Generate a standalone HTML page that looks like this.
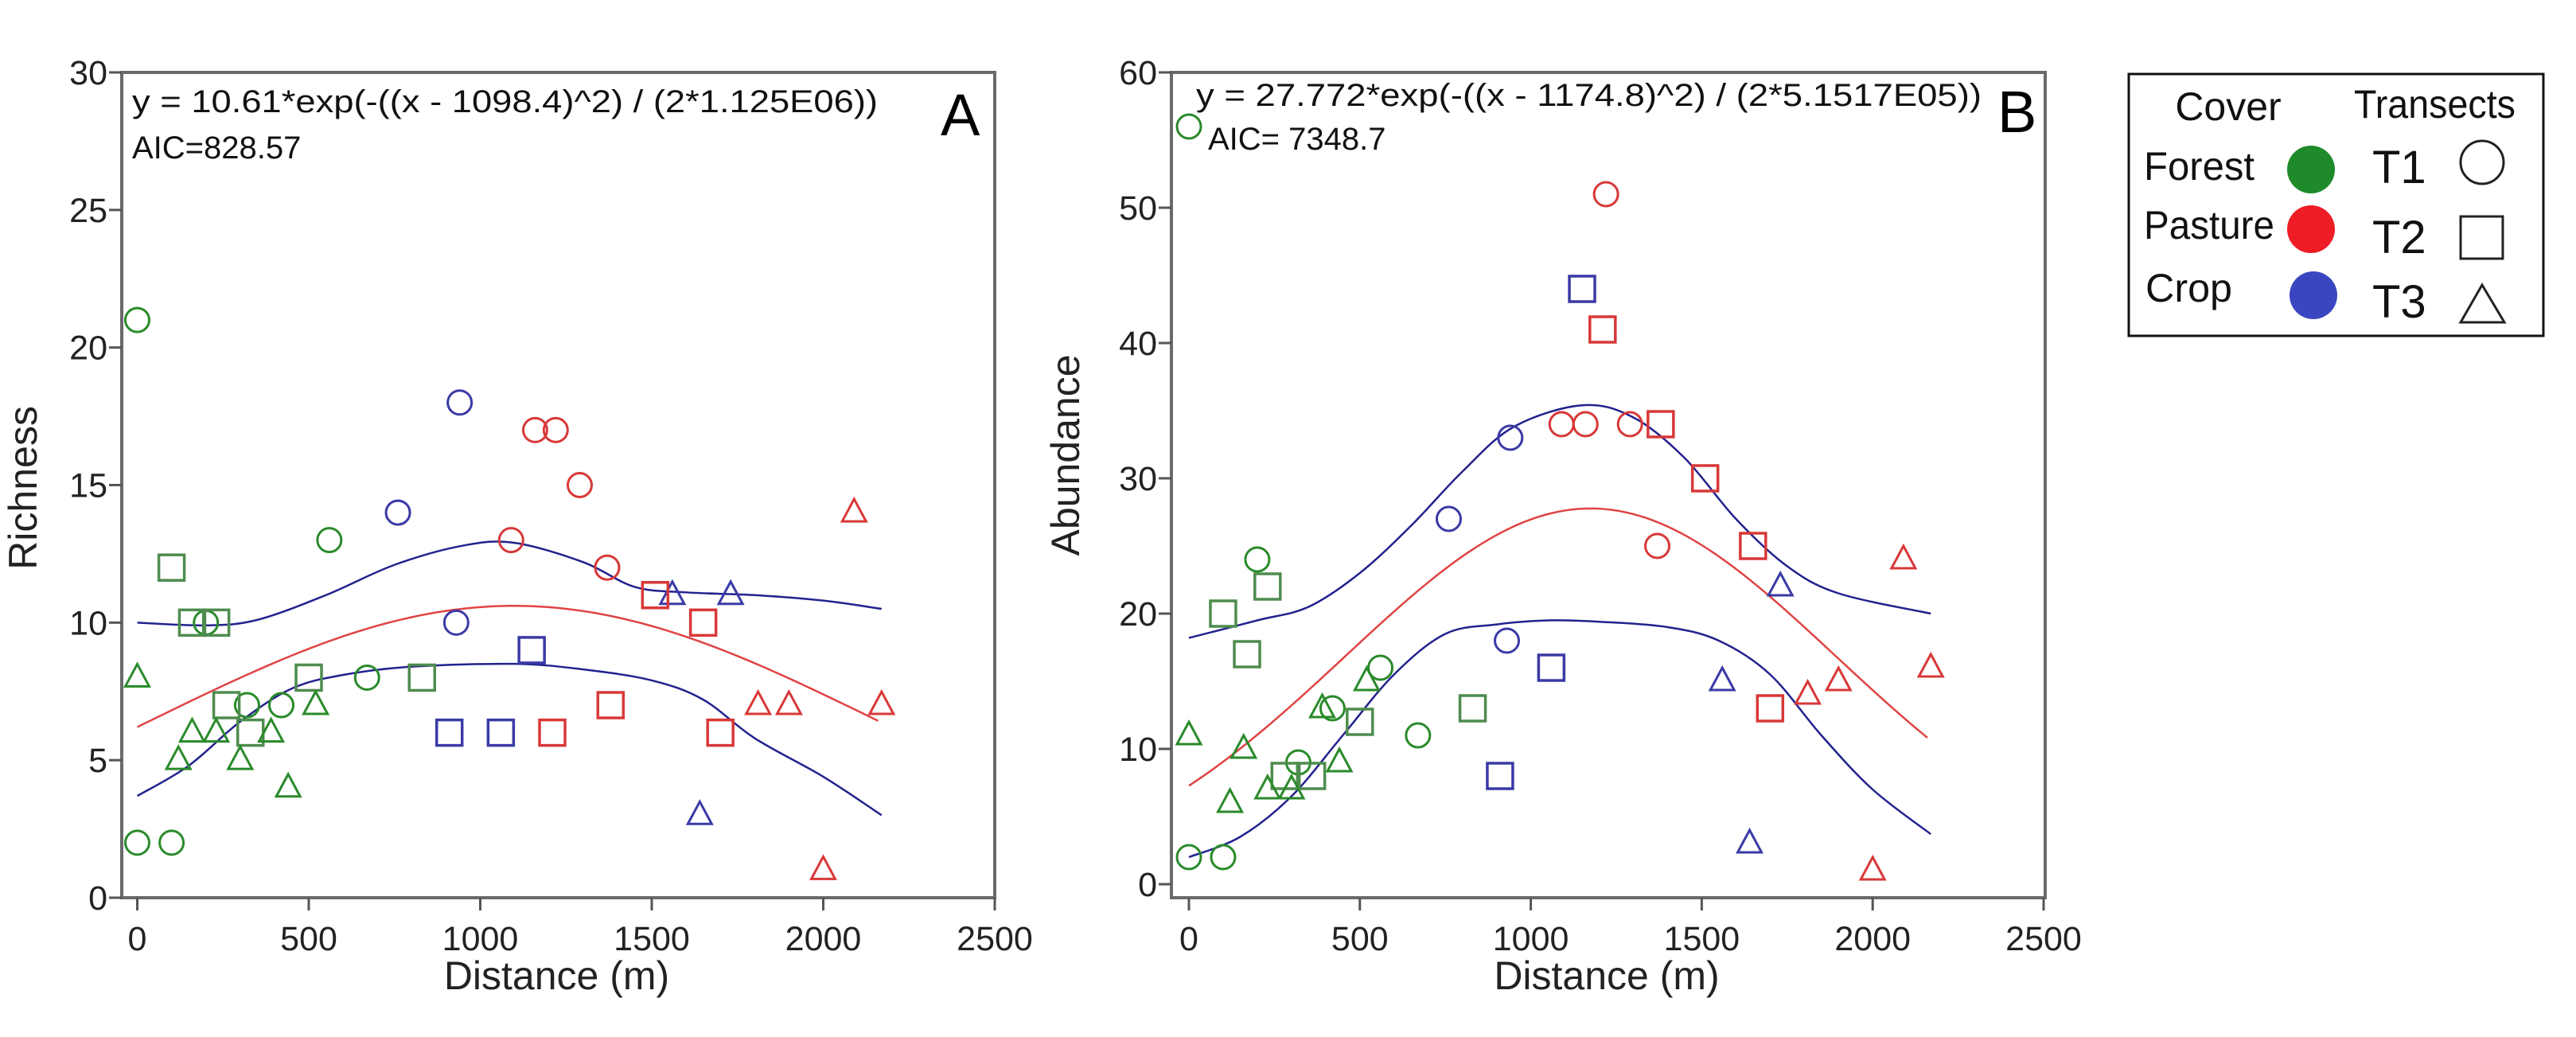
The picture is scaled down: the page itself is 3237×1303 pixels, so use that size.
<!DOCTYPE html>
<html><head><meta charset="utf-8"><style>
html,body{margin:0;padding:0;background:#fff;}
svg{display:block;font-family:"Liberation Sans",sans-serif;}
</style></head><body>
<svg id="fig" width="3237" height="1303" viewBox="0 0 3237 1303">
<g id="panelA"></g>
<g id="panelB"></g>
<g id="legend">
  <rect x="2675" y="93" width="521" height="329" fill="#fff" stroke="#111" stroke-width="3"/>
  <text x="2800" y="151" font-size="50" text-anchor="middle" fill="#111">Cover</text>
  <text x="2958" y="148" font-size="50" fill="#111" textLength="203" lengthAdjust="spacingAndGlyphs">Transects</text>
  <text x="2694" y="226" font-size="50" fill="#111" textLength="139" lengthAdjust="spacingAndGlyphs">Forest</text>
  <text x="2694" y="300" font-size="50" fill="#111" textLength="164" lengthAdjust="spacingAndGlyphs">Pasture</text>
  <text x="2696" y="379" font-size="50" fill="#111" textLength="109" lengthAdjust="spacingAndGlyphs">Crop</text>
  <circle cx="2904" cy="213" r="30" fill="#1f8a2a"/>
  <circle cx="2904" cy="288" r="30" fill="#ee1c24"/>
  <circle cx="2907" cy="371" r="30" fill="#3a46c0"/>
  <text x="2981" y="230" font-size="58" fill="#111">T1</text>
  <text x="2981" y="318" font-size="58" fill="#111">T2</text>
  <text x="2981" y="399" font-size="58" fill="#111">T3</text>
  <circle cx="3119" cy="204" r="27" fill="none" stroke="#222" stroke-width="3"/>
  <rect x="3092" y="272" width="53" height="53" fill="none" stroke="#222" stroke-width="3"/>
  <polygon points="3119,358 3147,405 3092,405" fill="none" stroke="#222" stroke-width="3"/>
</g>
</svg>
<script>
// ---------- Panel A data (Richness) ----------
const aForestT1x=[0,0,100,200,320,420,560,670];
const aForestT1y=[21,2,2,10,7,7,13,8];
const aForestT2x=[100,160,230,260,330,500,830];
const aForestT2y=[12,10,10,7,6,8,8];
const aForestT3x=[0,120,160,230,300,390,440,520];
const aForestT3y=[8,5,6,6,5,6,4,7];
const aCropT1x=[760,940,930];
const aCropT1y=[14,18,10];
const aCropT2x=[910,1060,1150];
const aCropT2y=[6,6,9];
const aCropT3x=[1560,1730,1640];
const aCropT3y=[11,11,3];
const aPastT1x=[1090,1160,1220,1290,1370];
const aPastT1y=[13,17,17,15,12];
const aPastT2x=[1210,1380,1510,1650,1700];
const aPastT2y=[6,7,11,10,6];
const aPastT3x=[1810,1900,2000,2090,2170];
const aPastT3y=[7,7,1,14,7];
const aUpperX=[0,200,350,550,750,950,1100,1300,1450,1600,1800,2000,2170];
const aUpperY=[10,9.9,10.1,11,12.1,12.8,12.9,12.2,11.3,11.1,11,10.8,10.5];
const aLowerX=[0,150,300,450,600,800,1100,1300,1500,1650,1800,2000,2170];
const aLowerY=[3.7,4.8,6.4,7.6,8.1,8.4,8.5,8.3,7.9,7.2,5.8,4.4,3.0];
const aFit=[10.61,1098.4,1.125e6];
const aYTicks=[0,5,10,15,20,25,30];
const xTicks=[0,500,1000,1500,2000,2500];

// ---------- Panel B data (Abundance) ----------
const bForestT1x=[0,0,100,200,320,420,560,670];
const bForestT1y=[56,2,2,24,9,13,16,11];
const bForestT2x=[100,170,230,280,360,500,830];
const bForestT2y=[20,17,22,8,8,12,13];
const bForestT3x=[0,120,160,230,300,390,440,520];
const bForestT3y=[11,6,10,7,7,13,9,15];
const bCropT1x=[760,940,930];
const bCropT1y=[27,33,18];
const bCropT2x=[910,1060,1150];
const bCropT2y=[8,16,44];
const bCropT3x=[1560,1730,1640];
const bCropT3y=[15,22,3];
const bPastT1x=[1090,1160,1220,1290,1370];
const bPastT1y=[34,34,51,34,25];
const bPastT2x=[1210,1380,1510,1650,1700];
const bPastT2y=[41,34,30,25,13];
const bPastT3x=[1810,1900,2000,2090,2170];
const bPastT3y=[14,15,1,24,16];
const bUpperX=[0,200,350,500,650,800,950,1150,1300,1450,1600,1750,1900,2170];
const bUpperY=[18.2,19.5,20.5,23,26.5,30.5,33.8,35.4,34.5,31.5,27,23.5,21.5,20];
const bLowerX=[0,150,300,450,600,750,900,1050,1200,1400,1550,1700,1850,2000,2170];
const bLowerY=[2,3.5,6.5,11,15.5,18.5,19.2,19.5,19.4,19,18,15.5,11,7,3.7];
const bFit=[27.772,1174.8,5.1517e5];
const bYTicks=[0,10,20,30,40,50,60];

const NS="http://www.w3.org/2000/svg";
const GREEN="#2a8a2a", GREEN2="#4e8c4e", RED="#d83838", BLUE="#3a3aa6";
function mk(parent,tag,attrs){const e=document.createElementNS(NS,tag);for(const k in attrs)e.setAttribute(k,attrs[k]);parent.appendChild(e);return e;}
function smooth(pts){let d="M"+pts[0][0]+","+pts[0][1];for(let i=0;i<pts.length-1;i++){const p0=pts[Math.max(0,i-1)],p1=pts[i],p2=pts[i+1],p3=pts[Math.min(pts.length-1,i+2)];
 const c1=[p1[0]+(p2[0]-p0[0])/6,p1[1]+(p2[1]-p0[1])/6],c2=[p2[0]-(p3[0]-p1[0])/6,p2[1]-(p3[1]-p1[1])/6];
 d+=" C"+c1[0]+","+c1[1]+" "+c2[0]+","+c2[1]+" "+p2[0]+","+p2[1];}return d;}

function panel(g,cfg){
 const X=v=>cfg.x0+(v-0)/2500*(cfg.x2500-cfg.x0);
 const Y=v=>cfg.yBase-(v-cfg.yMinV)/(cfg.yMaxV-cfg.yMinV)*(cfg.yBase-cfg.yTop);
 const fr=mk(g,"rect",{x:cfg.L,y:cfg.T,width:cfg.R-cfg.L,height:cfg.B-cfg.T,fill:"none",stroke:"#6a6a6a","stroke-width":4});
 
 
 cfg.yTicks.forEach(t=>{
  const l=mk(g,"line",{x1:cfg.L-16,x2:cfg.L,y1:Y(t),y2:Y(t),stroke:"#555","stroke-width":3});
  
  
  const tx=mk(g,"text",{x:cfg.L-18,y:Y(t)+15,"font-size":43,"text-anchor":"end",fill:"#222"});
  tx.textContent=t;
  
  
 });
 xTicks.forEach(t=>{
  const l=mk(g,"line",{x1:X(t),x2:X(t),y1:cfg.B,y2:cfg.B+16,stroke:"#555","stroke-width":3});
  
  
  const tx=mk(g,"text",{x:X(t),y:cfg.B+66,"font-size":43,"text-anchor":"middle",fill:"#222"});
  tx.textContent=t;
  
  
 });
 const xt=mk(g,"text",{x:(cfg.L+cfg.R)/2-2,y:1243,"font-size":50,"text-anchor":"middle",fill:"#222"});
 xt.textContent="Distance (m)";
 
 
 const yt=mk(g,"text",{x:0,y:0,"font-size":50,"text-anchor":"middle",fill:"#222",transform:"translate("+cfg.ytx+","+cfg.yty+") rotate(-90)"});
 yt.textContent=cfg.ytitle;
 
 
 const fitPts=[];for(let x=0;x<=2170;x+=20){fitPts.push([X(x),Y(cfg.fit[0]*Math.exp(-Math.pow(x-cfg.fit[1],2)/(2*cfg.fit[2])))]);}
 const fp=mk(g,"path",{d:"M"+fitPts.map(p=>p.join(",")).join(" L"),fill:"none",stroke:"#e04444","stroke-width":2.5});
 
 
 const up=mk(g,"path",{d:smooth(cfg.upX.map((x,i)=>[X(x),Y(cfg.upY[i])])),fill:"none",stroke:"#22228e","stroke-width":2.5});
 
 
 const lo=mk(g,"path",{d:smooth(cfg.loX.map((x,i)=>[X(x),Y(cfg.loY[i])])),fill:"none",stroke:"#22228e","stroke-width":2.5});
 
 
 cfg.series.forEach(s=>{
  s.xs.forEach((xv,i)=>{
   const cx=X(xv),cy=Y(s.ys[i]);let m;
   if(s.shape==="c") m=mk(g,"circle",{cx:cx,cy:cy,r:15,fill:"none",stroke:s.col,"stroke-width":3});
   else if(s.shape==="s") m=mk(g,"rect",{x:cx-16,y:cy-16,width:32,height:32,fill:"none",stroke:s.col,"stroke-width":3.5});
   else m=mk(g,"polygon",{points:cx+","+(cy-17)+" "+(cx+15)+","+(cy+11)+" "+(cx-15)+","+(cy+11),fill:"none",stroke:s.col,"stroke-width":3});
   
   
  });
 });
 const eq=mk(g,"text",{x:cfg.eqx,y:cfg.eqy,"font-size":40,fill:"#111",textLength:cfg.eqw,lengthAdjust:"spacingAndGlyphs"});
 eq.textContent=cfg.eq;
 
 
 const aic=mk(g,"text",{x:cfg.aicx,y:cfg.aicy,"font-size":40,fill:"#111"});
 aic.textContent=cfg.aic;
 
 
 const lt=mk(g,"text",{x:cfg.lx,y:cfg.ly,"font-size":74,fill:"#000"});
 lt.textContent=cfg.letter;
 
 
}

panel(document.getElementById("panelA"),{L:153,T:91,R:1250,B:1128,x0:172.5,x2500:1250,yBase:1128,yTop:91,yMinV:0,yMaxV:30,
 yTicks:aYTicks,ytitle:"Richness",ytx:46,yty:613,fit:aFit,upX:aUpperX,upY:aUpperY,loX:aLowerX,loY:aLowerY,
 eq:"y = 10.61*exp(-((x - 1098.4)^2) / (2*1.125E06))",eqx:166,eqy:141,eqw:937,aic:"AIC=828.57",aicx:166,aicy:199,letter:"A",lx:1182,ly:170,
 series:[
  {xs:aForestT1x,ys:aForestT1y,shape:"c",col:GREEN,name:"forest-t1-point"},
  {xs:aForestT2x,ys:aForestT2y,shape:"s",col:GREEN2,name:"forest-t2-point"},
  {xs:aForestT3x,ys:aForestT3y,shape:"t",col:GREEN,name:"forest-t3-point"},
  {xs:aCropT1x,ys:aCropT1y,shape:"c",col:BLUE,name:"crop-t1-point"},
  {xs:aCropT2x,ys:aCropT2y,shape:"s",col:BLUE,name:"crop-t2-point"},
  {xs:aCropT3x,ys:aCropT3y,shape:"t",col:BLUE,name:"crop-t3-point"},
  {xs:aPastT1x,ys:aPastT1y,shape:"c",col:RED,name:"pasture-t1-point"},
  {xs:aPastT2x,ys:aPastT2y,shape:"s",col:RED,name:"pasture-t2-point"},
  {xs:aPastT3x,ys:aPastT3y,shape:"t",col:RED,name:"pasture-t3-point"}]});

panel(document.getElementById("panelB"),{L:1472,T:91,R:2570,B:1128,x0:1494,x2500:2568,yBase:1111,yTop:91,yMinV:0,yMaxV:60,
 yTicks:bYTicks,ytitle:"Abundance",ytx:1356,yty:572,fit:bFit,upX:bUpperX,upY:bUpperY,loX:bLowerX,loY:bLowerY,
 eq:"y = 27.772*exp(-((x - 1174.8)^2) / (2*5.1517E05))",eqx:1503,eqy:133,eqw:987,aic:"AIC= 7348.7",aicx:1518,aicy:188,letter:"B",lx:2510,ly:166,
 series:[
  {xs:bForestT1x,ys:bForestT1y,shape:"c",col:GREEN,name:"forest-t1-point"},
  {xs:bForestT2x,ys:bForestT2y,shape:"s",col:GREEN2,name:"forest-t2-point"},
  {xs:bForestT3x,ys:bForestT3y,shape:"t",col:GREEN,name:"forest-t3-point"},
  {xs:bCropT1x,ys:bCropT1y,shape:"c",col:BLUE,name:"crop-t1-point"},
  {xs:bCropT2x,ys:bCropT2y,shape:"s",col:BLUE,name:"crop-t2-point"},
  {xs:bCropT3x,ys:bCropT3y,shape:"t",col:BLUE,name:"crop-t3-point"},
  {xs:bPastT1x,ys:bPastT1y,shape:"c",col:RED,name:"pasture-t1-point"},
  {xs:bPastT2x,ys:bPastT2y,shape:"s",col:RED,name:"pasture-t2-point"},
  {xs:bPastT3x,ys:bPastT3y,shape:"t",col:RED,name:"pasture-t3-point"}]});
</script>
</body></html>
